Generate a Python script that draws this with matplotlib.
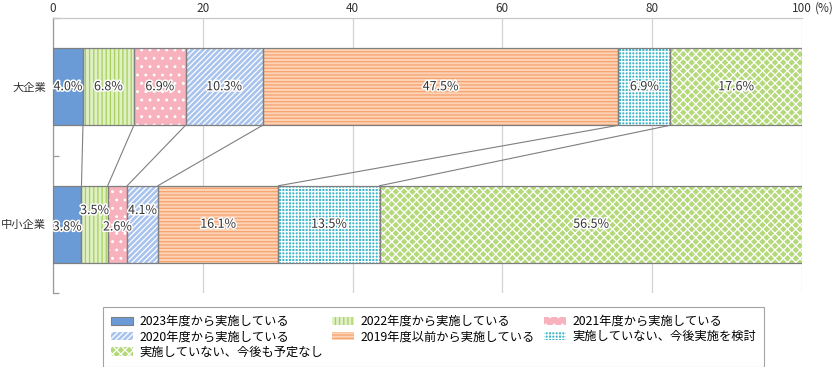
import matplotlib
matplotlib.use("Agg")
import numpy as np
import matplotlib.pyplot as plt
import matplotlib.patheffects as pe
from matplotlib.patches import Patch

plt.rcParams['font.family'] = ['Noto Sans CJK JP', 'DejaVu Sans']
plt.rcParams['hatch.linewidth'] = 0.9

# Data
categories = ["大企業", "中小企業"]
series_names = [
    "2023年度から実施している",
    "2022年度から実施している",
    "2021年度から実施している",
    "2020年度から実施している",
    "2019年度以前から実施している",
    "実施していない、今後実施を検討",
    "実施していない、今後も予定なし",
]
large = [4.0, 6.8, 6.9, 10.3, 47.5, 6.9, 17.6]
small = [3.8, 3.5, 2.6, 4.1, 16.1, 13.5, 56.5]
x_ticks = [0, 20, 40, 60, 80, 100]

# Styles: (facecolor, hatch colour, hatch)
styles = [
    ("#6a9bd6", None, None),
    ("#dff0c2", "#a6cf5e", "||||"),
    ("#f7b2bd", "white", ".."),
    ("#a8c3ee", "white", "//////"),
    ("#fcd3b6", "#f6a36e", "-----"),
    ("#3fb7cc", "white", "+++++"),
    ("#b4d97a", "white", "xxxx"),
]
edge = "#7f7f7f"
bar_h = 0.56
ypos = [0.5, 1.5]
tick_pad = 2.2

fig = plt.figure(figsize=(8.34, 3.67), dpi=100)
ax = fig.add_axes([53 / 834, 74 / 367, 749 / 834, 275 / 367])

data = np.array([large, small])
lefts = np.hstack([np.zeros((2, 1)), np.cumsum(data, axis=1)[:, :-1]])

for i, (fc, hc, hatch) in enumerate(styles):
    for r in range(2):
        if hatch:
            ax.barh(ypos[r], data[r, i], left=lefts[r, i], height=bar_h,
                    color=fc, edgecolor=hc, hatch=hatch, linewidth=0, zorder=2)
        else:
            ax.barh(ypos[r], data[r, i], left=lefts[r, i], height=bar_h,
                    color=fc, linewidth=0, zorder=2)
        ax.barh(ypos[r], data[r, i], left=lefts[r, i], height=bar_h,
                fill=False, edgecolor=edge, linewidth=0.9, zorder=3)

# connector lines between bars
ends_l = np.cumsum(large)[:-1]
ends_s = np.cumsum(small)[:-1]
for a, b in zip(ends_l, ends_s):
    ax.plot([a, b], [ypos[0] + bar_h / 2, ypos[1] - bar_h / 2],
            color=edge, linewidth=0.8, zorder=1)

# value labels
offsets = [[0, 0, 0, 0, 0, 0, 0],
           [0.02, -0.1, 0.02, -0.1, 0, 0, 0]]
stroke = [pe.withStroke(linewidth=2.2, foreground="white")]
for r in range(2):
    for i in range(len(series_names)):
        cx = lefts[r, i] + data[r, i] / 2
        ax.text(cx, ypos[r] + offsets[r][i], f"{data[r, i]:.1f}%",
                ha="center", va="center", fontsize=9, color="#333333",
                path_effects=stroke, zorder=5)

ax.set_xlim(0, 100)
ax.set_ylim(2, 0)
ax.xaxis.tick_top()
ax.set_xticks(x_ticks)
ax.set_xticklabels([str(t) for t in x_ticks])
ax.tick_params(axis="x", length=0, labelsize=8.5, colors="#333333", pad=tick_pad)
ax.set_yticks([0, 1, 2])
ax.set_yticklabels([])
ax.set_yticks(ypos, minor=True)
ax.set_yticklabels(categories, minor=True)
ax.tick_params(axis="y", which="major", length=4, direction="in",
               color="#9a9a9a", width=0.9)
ax.tick_params(axis="y", which="minor", length=0, labelsize=8.1,
               colors="#333333", pad=5)
ax.grid(axis="x", color="#d4d4d4", linewidth=0.9, zorder=0)
ax.set_axisbelow(True)
for s in ["right", "bottom"]:
    ax.spines[s].set_visible(False)
ax.spines["top"].set_color("#c8c8c8")
ax.spines["top"].set_linewidth(0.9)
ax.spines["left"].set_color("#9a9a9a")
ax.spines["left"].set_linewidth(0.9)

ax.annotate("(%)", xy=(100, 1), xycoords=("data", "axes fraction"),
            xytext=(9, tick_pad), textcoords="offset points",
            ha="left", va="bottom", fontsize=8.5, color="#333333")

# legend, arranged row-wise
handles = []
for (fc, hc, hatch), name in zip(styles, series_names):
    if hatch:
        handles.append(Patch(facecolor=fc, edgecolor=hc, hatch=hatch, linewidth=0, label=name))
    else:
        handles.append(Patch(facecolor=fc, edgecolor=edge, linewidth=0.8, label=name))
order = [0, 3, 6, 1, 4, 2, 5]
leg = fig.legend([handles[k] for k in order], [series_names[k] for k in order],
                 ncol=3, loc="upper left", bbox_to_anchor=(103 / 834, 1 - 307 / 367),
                 fontsize=8.8, frameon=True, fancybox=False, edgecolor="#8c8c8c",
                 handlelength=1.8, handleheight=0.65, handletextpad=0.55,
                 columnspacing=0.7, labelspacing=0.2, borderpad=0.65,
                 borderaxespad=0)
leg.get_frame().set_linewidth(0.8)

fig.savefig("out.png", dpi=100)
